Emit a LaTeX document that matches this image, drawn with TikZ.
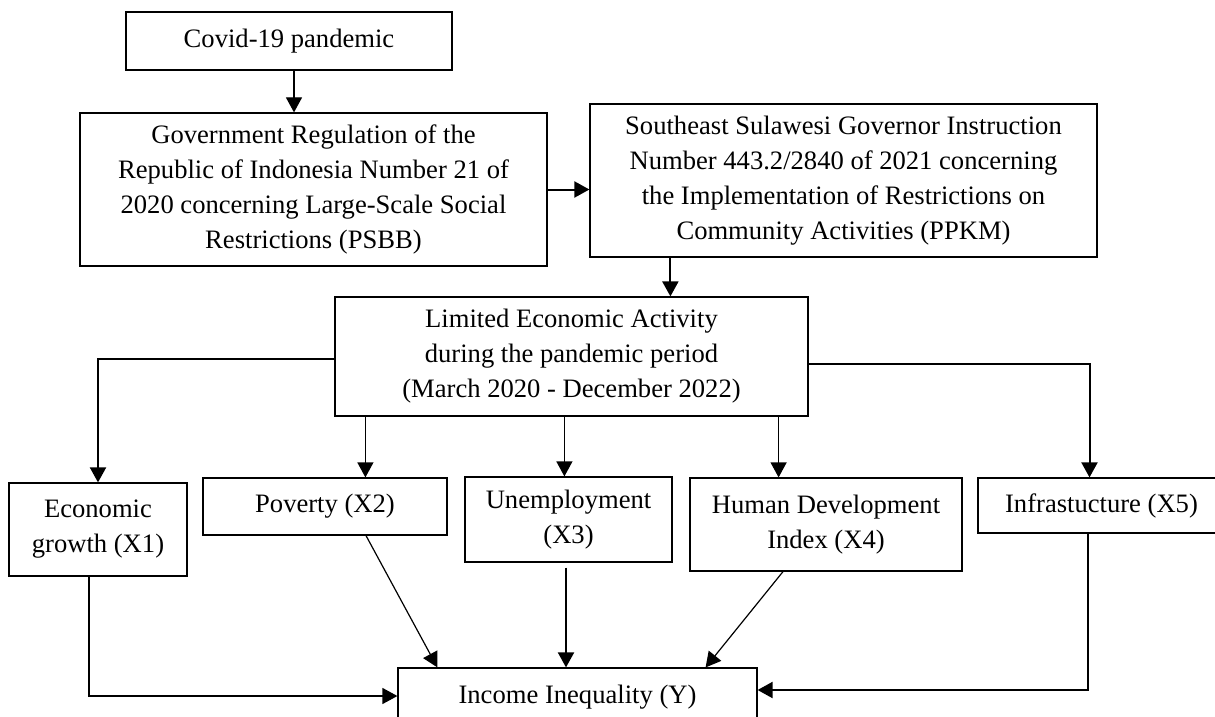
\documentclass[tikz,border=0pt]{standalone}
\usepackage{fontspec}
\setmainfont{Liberation Serif}
\usetikzlibrary{arrows.meta,calc}
\begin{document}
\begin{tikzpicture}[x=0.5pt,y=-0.5pt,
  box/.style={draw, line width=0.6pt, inner sep=0pt, align=center,
    font=\fontsize{13.3pt}{17.5pt}\selectfont},
  thinarr/.style={line width=0.6pt, -{Triangle[length=7.5pt,width=8pt]}},
  thickarr/.style={line width=1pt, -{Triangle[length=7.5pt,width=8pt]}}]
\clip (0,0) rectangle (1215,717);
\fill[white] (0,0) rectangle (1215,717);

\node[box, minimum width=163pt, minimum height=29pt] (A) at (289,41) {Covid-19 pandemic};
\node[box, minimum width=233.5pt, minimum height=76.5pt] (B) at (313.5,189.5)
  {Government Regulation of the\\Republic of Indonesia Number 21 of\\2020 concerning Large-Scale Social\\Restrictions (PSBB)};
\node[box, minimum width=253.5pt, minimum height=76.5pt] (C) at (843.5,180.5)
  {Southeast Sulawesi Governor Instruction\\Number 443.2/2840 of 2021 concerning\\the Implementation of Restrictions on\\Community Activities (PPKM)};
\node[box, minimum width=236.5pt, minimum height=59.5pt] (D) at (571.5,356.5)
  {Limited Economic Activity\\during the pandemic period\\(March 2020 - December 2022)};
\node[box, minimum width=89pt, minimum height=46.5pt] (X1) at (98,529.5) {Economic\\growth (X1)};
\node[box, minimum width=122pt, minimum height=28.5pt] (X2) at (325,506.5) {Poverty (X2)};
\node[box, minimum width=103.5pt, minimum height=42.5pt] (X3) at (568.5,519.5) {Unemployment\\(X3)};
\node[box, minimum width=136pt, minimum height=46.5pt] (X4) at (826,524.5) {Human Development\\Index (X4)};
\node[box, minimum width=123.5pt, minimum height=27.5pt] (X5) at (1101.5,505.5) {Infrastucture (X5)};
\node[box, minimum width=179.5pt, minimum height=29pt] (Y) at (577.5,697) {Income Inequality (Y)};

% top chain
\coordinate (ab) at ($(A.south)+(5,0)$);
\draw[thinarr] (ab) -- (ab |- B.north);
\draw[thickarr] (B.east) -- (B.east -| C.west);
\coordinate (cd) at ($(C.south west)+(81,0)$);
\draw[thickarr] (cd) -- (cd |- D.north);

% D to variables
\coordinate (d1) at ($(D.west)+(0,2.5)$);
\draw[thickarr] (d1) -| (X1.north);
\coordinate (d2) at ($(D.south west)+(31,0)$);
\draw[thinarr] (d2) -- (d2 |- X2.north);
\coordinate (d3) at ($(D.south west)+(230,0)$);
\draw[thinarr] (d3) -- (d3 |- X3.north);
\coordinate (d4) at ($(D.south east)+(-30,0)$);
\draw[thinarr] (d4) -- (d4 |- X4.north);
\coordinate (d5) at ($(D.east)+(0,7.5)$);
\coordinate (x5t) at ($(X5.north)+(-12,0)$);
\draw[thickarr] (d5) -| (x5t);

% variables to Y
\coordinate (x1b) at ($(X1.south)+(-9,0)$);
\coordinate (y1) at ($(Y.west)+(0,-1)$);
\draw[thinarr] (x1b) |- (y1);
\coordinate (x2b) at ($(X2.south)+(41,0)$);
\draw[thinarr] (x2b) -- ($(Y.north west)+(40,0)$);
\coordinate (x3b) at ($(X3.south)+(-2.5,5)$);
\draw[thickarr] (x3b) -- (x3b |- Y.north);
\coordinate (x4b) at ($(X4.south)+(-43,0)$);
\draw[thinarr] (x4b) -- ($(Y.north east)+(-52,0)$);
\coordinate (x5b) at ($(X5.south)+(-13.5,0)$);
\coordinate (y5) at ($(Y.east)+(0,-7)$);
\draw[thickarr] (x5b) |- (y5);
\end{tikzpicture}
\end{document}
